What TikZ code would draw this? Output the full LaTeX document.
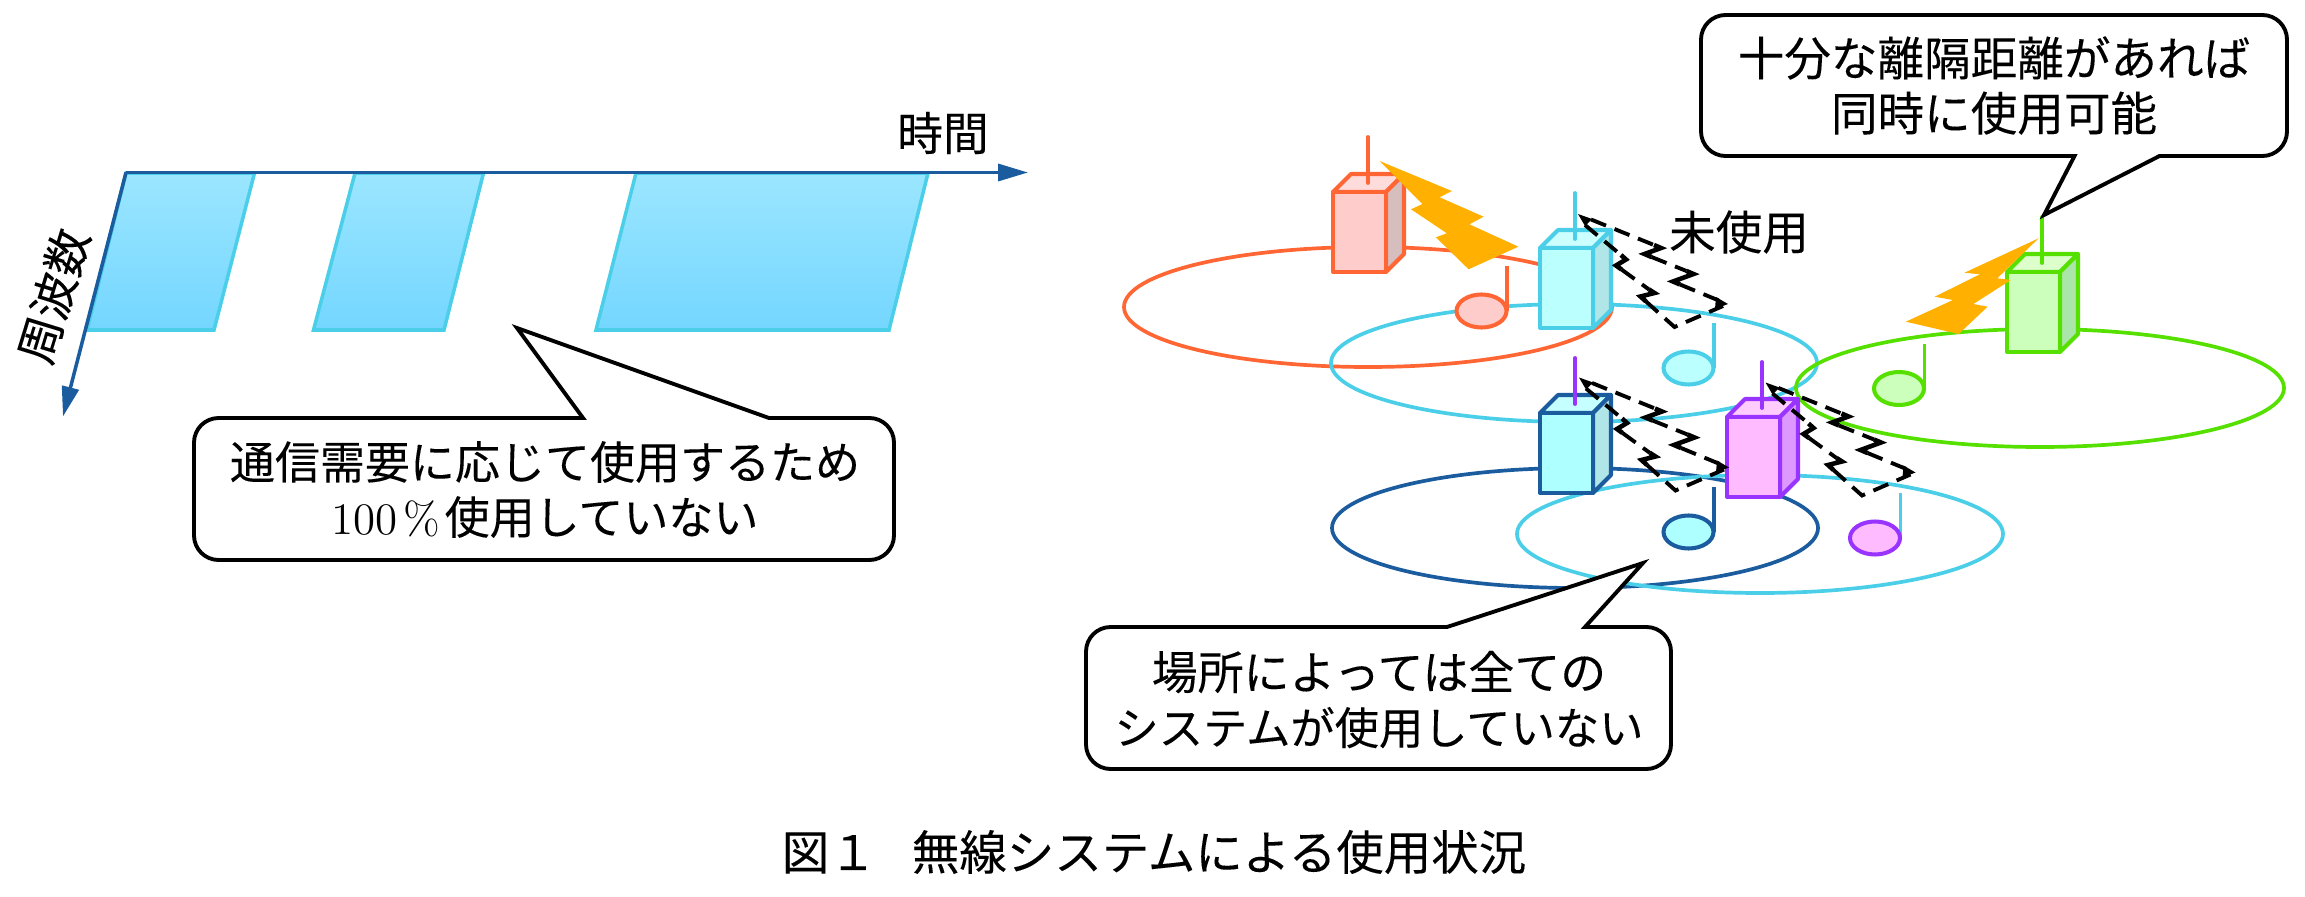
\documentclass[tikz,border=0pt]{standalone}
\usepackage{fontspec}
\newfontfamily\jp[FakeBold=0.12]{Noto Sans CJK JP}
\usetikzlibrary{arrows.meta,calc}
\definecolor{axisblue}{HTML}{1A5C9E}
\definecolor{bandtop}{HTML}{9BE6FF}
\definecolor{bandbot}{HTML}{74D6FF}
\definecolor{cyanl}{HTML}{4BCFE8}
\definecolor{orangel}{HTML}{FF6633}
\definecolor{greenl}{HTML}{55E000}
\definecolor{purplel}{HTML}{9933FF}
\definecolor{boltc}{HTML}{FFB000}
\definecolor{orF}{HTML}{FFCCCC}
\definecolor{orT}{HTML}{FFDCDC}
\definecolor{orS}{HTML}{D6BEBE}
\definecolor{cyF}{HTML}{BBFFFF}
\definecolor{cyT}{HTML}{CCFFFF}
\definecolor{cyS}{HTML}{B0E6E8}
\definecolor{blF}{HTML}{AEFFFF}
\definecolor{blT}{HTML}{C6FFFF}
\definecolor{puF}{HTML}{FFBBFF}
\definecolor{puT}{HTML}{FFCCFF}
\definecolor{puS}{HTML}{DD99FF}
\definecolor{grF}{HTML}{CCFFBB}
\definecolor{grT}{HTML}{DCFFCC}
\definecolor{grS}{HTML}{AAE6AA}
\tikzset{
  axisline/.style={draw=axisblue,line width=1pt,-{Triangle[length=8.5pt,width=4.8pt]}},
  band/.style={top color=bandtop,bottom color=bandbot,draw=cyanl,line width=1pt},
  cellring/.style={line width=1.05pt},
  towerline/.style={line width=1.15pt,line join=round},
  antenna/.style={line width=1.1pt,line cap=round},
  fanline/.style={draw=black,line width=1.1pt,dash pattern=on 4.6pt off 2.6pt},
  fanjog/.style={draw=black,line width=1.3pt,line join=miter},
  notehead/.style={line width=1.15pt},
  bubble/.style={draw=black,line width=1.1pt,fill=white,line join=miter},
  lbl/.style={inner sep=0pt,align=center,font=\jp\fontsize{12.8pt}{15.65pt}\selectfont},
  lblbig/.style={inner sep=0pt,align=center,font=\jp\fontsize{13pt}{15.65pt}\selectfont},
  lblwide/.style={inner sep=0pt,align=center,font=\jp\fontsize{13.25pt}{15.65pt}\selectfont},
  captiontext/.style={inner sep=0pt,font=\jp\fontsize{13.5pt}{16pt}\selectfont},
}
% #1 position of the front top left corner, #2 line, #3 front, #4 top, #5 side
\newcommand\basestation[5]{%
  \begin{scope}[shift={(#1)}]
    \draw[towerline,draw=#2,fill=#4] (0,0) -- (18,-18) -- (71,-18) -- (53,0) -- cycle;
    \draw[towerline,draw=#2,fill=#5] (53,0) -- (71,-18) -- (71,62) -- (53,80) -- cycle;
    \draw[towerline,draw=#2,fill=#3] (0,0) rectangle (53,80);
  \end{scope}}
\newcommand\mast[2]{\draw[antenna,draw=#2] ($(#1)+(35,-55)$) -- ($(#1)+(35,-9)$);}
% #1 centre of head, #2 outline, #3 fill, #4 stem colour
\newcommand\tune[4]{%
  \draw[line width=1.1pt,draw=#4] ($(#1)+(25.5,-45)$) -- ($(#1)+(25.5,0)$);
  \draw[notehead,draw=#2,fill=#3] (#1) circle[x radius=25,y radius=16.5];}
\newcommand\quietfan[1]{%
  \begin{scope}[shift={(#1)}]
    \draw[fanline] (13,5.5) -- (76,31);
    \draw[fanjog] (76,31) -- (83,34) -- (66.5,40) -- (73.5,43);
    \draw[fanline] (73.5,43) -- (108.5,57);
    \draw[fanjog] (108.5,57) -- (115.5,60) -- (95,67.5) -- (102,70.5);
    \draw[fanline] (102,70.5) -- (142,87);
    \draw[fanline] (7,11) -- (43,41);
    \draw[fanjog] (43,41) -- (48,45.5) -- (38,51.5) -- (43.5,55.5);
    \draw[fanline] (43.5,55.5) -- (71,75.5);
    \draw[fanjog] (71,75.5) -- (76.5,79) -- (62.5,82.5) -- (68,87.5);
    \draw[fanline] (68,87.5) -- (96.5,113) -- (145,92);
    \fill[black] (0,0) -- (14,5) -- (7,12) -- cycle;
    \fill[black] (150,90) -- (138,83) -- (137,95) -- cycle;
  \end{scope}}
\begin{document}
\begin{tikzpicture}[x=0.01cm,y=-0.01cm]
\useasboundingbox (0,0) rectangle (2305,897);
% spectrum bands
\path[band] (126,173) -- (254.5,173) -- (214,330) -- (87,330) -- cycle;
\path[band] (355,173) -- (483.5,173) -- (444,330) -- (313.5,330) -- cycle;
\path[band] (636,173) -- (928,173) -- (889,330) -- (596,330) -- cycle;
\coordinate (origin) at (126,172.5);
\coordinate (timetip) at (1028,172.5);
\coordinate (freqtip) at (63,416.5);
\draw[axisline] (origin) -- (timetip);
\draw[axisline] (origin) -- (freqtip);
\node[lblbig] (timelabel) at (943,133) {時間};
\node[lblbig,rotate=73] (freqlabel) at (53.5,296) {周波数};
% cells
\draw[cellring,draw=orangel] (1368,307) ellipse[x radius=244,y radius=60];
\draw[cellring,draw=cyanl] (1574,363) ellipse[x radius=243,y radius=59];
\draw[cellring,draw=axisblue] (1575,528) ellipse[x radius=243,y radius=60];
\draw[cellring,draw=cyanl] (1760,534) ellipse[x radius=243,y radius=59];
\draw[cellring,draw=greenl] (2040,388) ellipse[x radius=244,y radius=59];
% stations
\basestation{1333,192}{orangel}{orF}{orT}{orS}
\basestation{1540,248}{cyanl}{cyF}{cyT}{cyS}
\basestation{1540,413}{axisblue}{blF}{blT}{cyS}
\basestation{1727,417}{purplel}{puF}{puT}{puS}
\basestation{2007,272}{greenl}{grF}{grT}{grS}
\mast{1333,192}{orangel}
\mast{1540,248}{cyanl}
\mast{1540,413}{purplel}
\mast{1727,417}{purplel}
\mast{2007,272}{greenl}
% interference
\fill[boltc] (1379.6,161) -- (1451.8,191) -- (1439.6,197.3) -- (1483.7,216.7) -- (1469.4,224.3) -- (1518.4,246.7) -- (1468.6,269.3) -- (1435.9,237.3) -- (1446.9,233.3) -- (1411,209.3) -- (1422.4,204) -- cycle;
\fill[boltc] (2038.6,238.3) -- (1964.5,272.7) -- (1979.9,274.3) -- (1934.7,296.7) -- (1952.9,300) -- (1905.8,321.7) -- (1958.7,334) -- (1987.6,306.7) -- (1973.4,304) -- (2010.8,280) -- (1997.3,278.3) -- cycle;
% terminals
\tune{1481.5,311}{orangel}{orF}{orangel}
\tune{1688.5,368}{cyanl}{cyF}{cyanl}
\tune{1899,388.5}{greenl}{grF}{greenl}
\tune{1688.5,532}{axisblue}{blF}{axisblue}
\tune{1875,538}{purplel}{puF}{cyanl}
% unused channels
\quietfan{1578,214}
\quietfan{1579,377.5}
\quietfan{1765.5,382.5}
\node[lblwide] (unused) at (1739,232) {未使用};
% callouts
\coordinate (tipa) at (517,328);
\draw[bubble] (583,418) [rounded corners=7pt] -- (194,418) -- (194,560) -- (894,560) -- (894,418) [sharp corners] -- (769,418) -- (tipa) -- cycle;
\node[lbl] (texta) at (545,489.5) {通信需要に応じて使用するため\\{\rmfamily 100\kern1.7pt\%\kern1.2pt}使用していない};
\coordinate (tipb) at (2044,215);
\draw[bubble] (2074.5,156) [rounded corners=7pt] -- (1701,156) -- (1701,15) -- (2287,15) -- (2287,156) [sharp corners] -- (2159.5,156) -- (tipb) -- cycle;
\node[lblwide] (textb) at (1994,85.5) {十分な離隔距離があれば\\同時に使用可能};
\coordinate (tipc) at (1643,563);
\draw[bubble] (1447,627) [rounded corners=7pt] -- (1086,627) -- (1086,769) -- (1671,769) -- (1671,627) [sharp corners] -- (1585,627) -- (tipc) -- cycle;
\node[lbl] (textc) at (1379,699.5) {\fontsize{13.05pt}{15.65pt}\selectfont 場所によっては全ての\\\fontsize{12.6pt}{15.65pt}\selectfont システムが使用していない};
\node[captiontext] (caption) at (1154,852) {図１　\kern-3.5pt無線システムによる使用状況};
\end{tikzpicture}
\end{document}
